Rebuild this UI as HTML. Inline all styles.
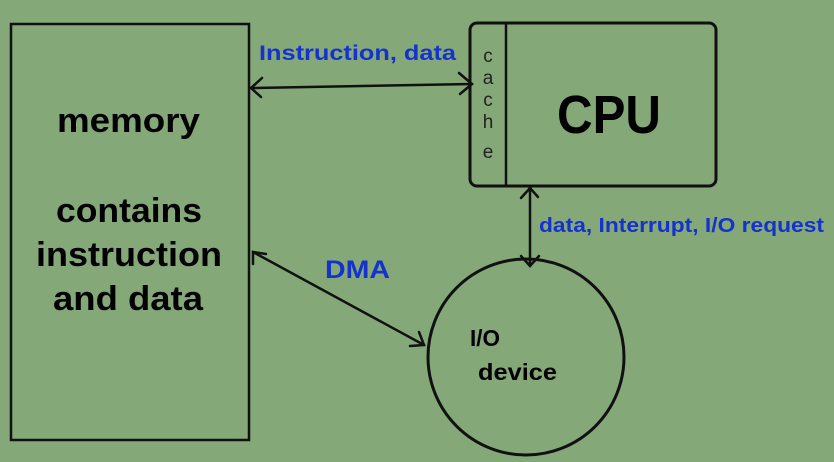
<!DOCTYPE html>
<html><head><style>
body{margin:0;background:#84a878;}
svg{display:block}
text{font-family:"Liberation Sans","DejaVu Sans",sans-serif;font-weight:bold}
</style></head><body>
<svg width="834" height="462" viewBox="0 0 834 462">
<rect width="834" height="462" fill="#84a878"/>
<g fill="none" stroke="#111" stroke-width="2.5" stroke-linecap="round">
<rect x="11" y="24" width="238" height="416"/>
<rect x="470" y="23" width="246" height="163" rx="7" stroke-width="3"/>
<line x1="506" y1="23" x2="506" y2="186"/>
<circle cx="526" cy="357" r="98" stroke-width="3"/>
<line x1="251" y1="88" x2="472" y2="84"/>
<polyline points="262,78 251,88 261,97"/>
<polyline points="459,73 472,84 460,94"/>
<line x1="253" y1="252" x2="424" y2="345"/>
<polyline points="253,264 253,252 266,254"/>
<polyline points="410,346 424,345 419,332"/>
<line x1="530" y1="188" x2="530" y2="266"/>
<polyline points="521,198 530,188 538,197"/>
<polyline points="521,256 530,266 539,256"/>
</g>
<g fill="#000">
<text x="57" y="132" font-size="34" textLength="143" lengthAdjust="spacingAndGlyphs">memory</text>
<text x="56" y="222" font-size="34" textLength="146" lengthAdjust="spacingAndGlyphs">contains</text>
<text x="36" y="266" font-size="34" textLength="186" lengthAdjust="spacingAndGlyphs">instruction</text>
<text x="53" y="310" font-size="34" textLength="150" lengthAdjust="spacingAndGlyphs">and data</text>
<text x="557" y="133" font-size="54" textLength="104" lengthAdjust="spacingAndGlyphs">CPU</text>
<text x="470" y="346" font-size="23" textLength="30" lengthAdjust="spacingAndGlyphs">I/O</text>
<text x="478" y="380" font-size="23" textLength="79" lengthAdjust="spacingAndGlyphs">device</text>
</g>
<g fill="#222" font-size="19" text-anchor="middle">
<text x="488" y="62" style="font-weight:normal">c</text>
<text x="488" y="84" style="font-weight:normal">a</text>
<text x="488" y="106" style="font-weight:normal">c</text>
<text x="488" y="128" style="font-weight:normal">h</text>
<text x="488" y="158" style="font-weight:normal">e</text>
</g>
<g fill="#1533cc">
<text x="259" y="60" font-size="21" textLength="197" lengthAdjust="spacingAndGlyphs">Instruction, data</text>
<text x="325" y="278" font-size="25" textLength="65" lengthAdjust="spacingAndGlyphs">DMA</text>
<text x="539" y="232" font-size="20" textLength="285" lengthAdjust="spacingAndGlyphs">data, Interrupt, I/O request</text>
</g>
</svg>
</body></html>
